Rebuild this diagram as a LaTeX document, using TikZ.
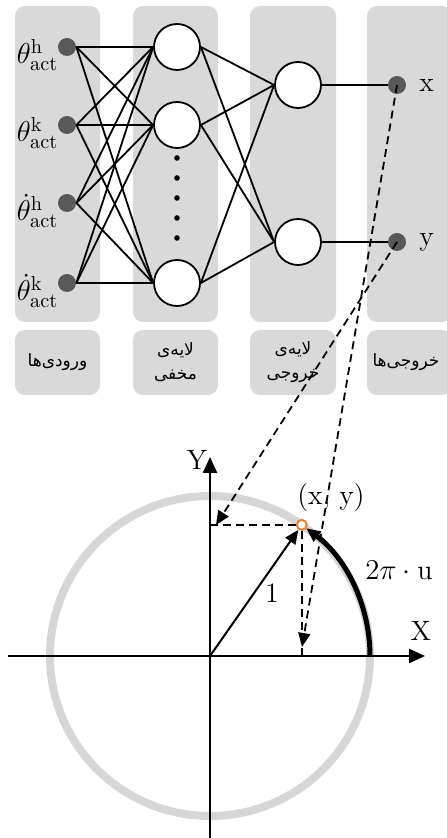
\documentclass[tikz,border=0pt]{standalone}
\usepackage{fontspec}
\newfontfamily\persianfont[Script=Arabic]{DejaVu Sans}
\TeXXeTstate=1
\usetikzlibrary{arrows.meta,positioning,calc}

\definecolor{boxgrey}{HTML}{D9D9D9}
\definecolor{dotgrey}{HTML}{595959}
\definecolor{ringgrey}{HTML}{D6D6D6}
\definecolor{pointorange}{HTML}{ED7D31}

\begin{document}
\begin{tikzpicture}[x=0.5pt,y=0.5pt,
    layer/.style={fill=boxgrey, rounded corners=5pt},
    unit/.style={circle, draw, line width=0.9pt, fill=white, minimum size=23pt, inner sep=0pt},
    io/.style={circle, fill=dotgrey, minimum size=9pt, inner sep=0pt},
    edge/.style={line width=0.9pt},
    proj/.style={line width=0.9pt, dash pattern=on 4pt off 2.5pt},
    axis/.style={line width=1.2pt, -{Triangle[length=8pt,width=7pt]}},
    lbl/.style={font=\fontsize{14}{16}\selectfont},
    inlbl/.style={font=\fontsize{14.5}{17}\selectfont, anchor=east, inner sep=0pt},
    fa/.style={font=\persianfont\fontsize{8.5}{12}\selectfont, align=center}
]
\useasboundingbox (0,0) rectangle (446,838);

% Layers
\fill[layer] (15,516) rectangle (100,832);
\fill[layer] (133,516) rectangle (218,832);
\fill[layer] (250,516) rectangle (336,832);
\fill[layer] (367,516) rectangle (452,832);

% Layer names
\fill[layer] (15,443) rectangle (100,508);
\fill[layer] (133,443) rectangle (218,508);
\fill[layer] (250,443) rectangle (336,508);
\fill[layer] (367,443) rectangle (452,508);
\node[fa] (nin) at (57.5,475.5) {\beginR ورودی‌ها\endR};
\node[fa] (nhid) at (175.5,475.5) {\beginR لایه‌ی\endR\\\beginR مخفی\endR};
\node[fa] (nout) at (293,475.5) {\beginR لایه‌ی\endR\\\beginR خروجی\endR};
\node[fa] (nres) at (406,475.5) {\beginR خروجی‌ها\endR};

% Input nodes
\node[io] (in1) at (67,791) {};
\node[io] (in2) at (67,713) {};
\node[io] (in3) at (67,635) {};
\node[io] (in4) at (67,555) {};
\node[inlbl] (lin1) at ([xshift=0.5pt,yshift=-4pt]in1.west) {$\theta^{\mathrm{h}}_{\mathrm{act}}$};
\node[inlbl] (lin2) at ([xshift=0.5pt,yshift=-4pt]in2.west) {$\theta^{\mathrm{k}}_{\mathrm{act}}$};
\node[inlbl] (lin3) at ([xshift=0.5pt,yshift=-4pt]in3.west) {$\dot\theta^{\mathrm{h}}_{\mathrm{act}}$};
\node[inlbl] (lin4) at ([xshift=0.5pt,yshift=-4pt]in4.west) {$\dot\theta^{\mathrm{k}}_{\mathrm{act}}$};

% Hidden layer
\node[unit] (hid1) at (177,791) {};
\node[unit] (hid2) at (177,713) {};
\node[unit] (hid3) at (177,555) {};
\foreach \y in {680,660,640,620,600}
    \fill (177,\y) circle (1.4pt);

% Output layer
\node[unit] (out1) at (298,753) {};
\node[unit] (out2) at (298,596) {};

% Outputs
\node[io] (dotx) at (397,753) {};
\node[io] (doty) at (397,596) {};
\node[lbl, right=3pt of dotx] (labx) {x};
\node[lbl, right=3pt of doty] (laby) {y};

% Connections
\foreach \i in {1,...,4}
    \foreach \j in {1,2,3}
        \draw[edge] (in\i.east) -- (hid\j.west);
\foreach \j in {1,2,3}
    \foreach \k in {1,2}
        \draw[edge] (hid\j.east) -- (out\k.west);
\draw[edge] (out1.east) -- (dotx);
\draw[edge] (out2.east) -- (doty);

% Unit circle
\coordinate (O) at (210,182);
\draw[ringgrey, line width=4pt] (O) circle (160);
\coordinate (xs) at (8,182);
\coordinate (xe) at (425,182);
\coordinate (ys) at (210,0);
\coordinate (ye) at (210,381);
\draw[axis] (xs) -- (xe);
\draw[axis] (ys) -- (ye);
\node[lbl] (labX) at (421,207) {X};
\node[lbl] (labY) at (197,378) {Y};

\node[circle, draw=pointorange, line width=1pt, fill=white, minimum size=5pt, inner sep=0pt] (P) at (301.8,313.1) {};
\coordinate (Px) at (P |- O);
\coordinate (Py) at (O |- P);
\coordinate (xhit) at (302,191);
\coordinate (yhit) at (216,313);

\draw[line width=1pt, -{Triangle[length=7pt,width=6pt]}] (O) -- (P);
\node[lbl] (one) at (272,245) {1};
\draw[line width=2.5pt, -{Triangle[length=7pt,width=6pt]}] (370,182) arc[start angle=0, end angle=53, radius=160];
\node[lbl] (arc) at (399,268) {$2\pi\cdot\mathrm{u}$};
\node[lbl] (pxy) at (331,340) {(x, y)};

% Projections
\draw[proj] (P) -- (Py);
\draw[proj] (P) -- (Px);
\draw[proj, -{Triangle[length=7pt,width=6pt]}] (dotx.center) -- (xhit);
\draw[proj, -{Triangle[length=7pt,width=6pt]}] (doty.center) -- (yhit);

\end{tikzpicture}
\end{document}
